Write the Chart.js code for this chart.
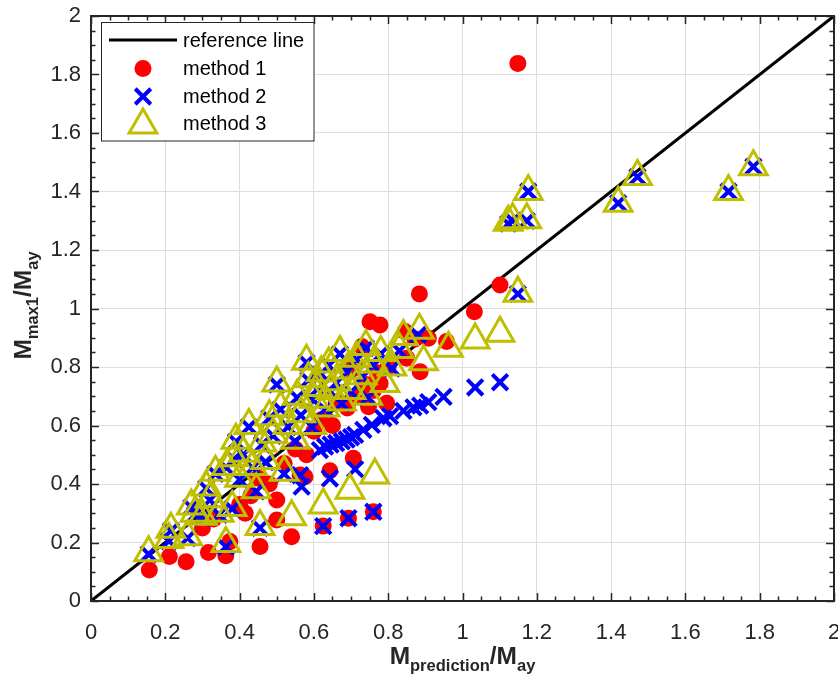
<!DOCTYPE html>
<html><head><meta charset="utf-8">
<script src="https://cdn.jsdelivr.net/npm/chart.js@4.4.1/dist/chart.umd.min.js"></script>
<style>html,body{margin:0;padding:0;background:#fff;}#wrap{width:838px;height:679px;}</style>
</head><body><div id="wrap"><canvas id="c" width="838" height="679"></canvas></div>
<script>
// ---------- data ----------
const tickValues = [0, 0.2, 0.4, 0.6, 0.8, 1, 1.2, 1.4, 1.6, 1.8, 2];
const tickLabels = ['0', '0.2', '0.4', '0.6', '0.8', '1', '1.2', '1.4', '1.6', '1.8', '2'];
const seriesNames = ['reference line', 'method 1', 'method 2', 'method 3'];
const referenceX = [0, 2];
const referenceY = [0, 2];

const method1 = [
  [0.157,0.106],[0.211,0.152],[0.256,0.134],[0.316,0.166],[0.363,0.155],[0.374,0.203],[0.415,0.300],
  [0.455,0.186],[0.500,0.277],[0.500,0.345],[0.540,0.220],[0.563,0.431],[0.576,0.425],[0.625,0.256],
  [0.643,0.445],[0.693,0.283],[0.706,0.488],[0.760,0.305],[0.300,0.250],[0.330,0.280],[0.400,0.330],
  [0.430,0.360],[0.450,0.420],[0.480,0.400],[0.520,0.470],[0.550,0.520],[0.580,0.500],[0.600,0.580],
  [0.620,0.620],[0.650,0.600],[0.660,0.680],[0.690,0.660],[0.720,0.700],[0.740,0.740],[0.760,0.720],
  [0.778,0.744],[0.796,0.676],[0.747,0.664],[0.700,0.790],[0.729,0.870],[0.770,0.780],[0.800,0.800],
  [0.751,0.955],[0.778,0.944],[0.845,0.921],[0.872,0.896],[0.884,1.050],[0.908,0.898],[0.957,0.887],
  [1.032,0.989],[1.101,1.080],[1.149,1.838],[0.886,0.784],[0.850,0.830]
];
const method2 = [
  [0.155,0.160],[0.210,0.205],[0.215,0.240],[0.260,0.215],[0.280,0.295],[0.270,0.320],[0.300,0.285],
  [0.310,0.385],[0.320,0.345],[0.335,0.435],[0.345,0.295],[0.363,0.185],[0.365,0.455],[0.380,0.315],
  [0.385,0.485],[0.390,0.545],[0.400,0.415],[0.410,0.500],[0.425,0.595],[0.435,0.455],[0.445,0.375],
  [0.455,0.250],[0.460,0.535],[0.470,0.475],[0.480,0.625],[0.490,0.565],[0.500,0.740],[0.510,0.655],
  [0.520,0.435],[0.530,0.595],[0.550,0.545],[0.555,0.695],[0.565,0.635],[0.580,0.815],[0.585,0.755],
  [0.595,0.595],[0.600,0.685],[0.610,0.725],[0.620,0.775],[0.630,0.655],[0.640,0.805],[0.645,0.715],
  [0.660,0.745],[0.670,0.845],[0.675,0.675],[0.690,0.785],[0.700,0.715],[0.715,0.825],[0.730,0.765],
  [0.740,0.865],[0.745,0.695],[0.760,0.805],[0.780,0.845],[0.810,0.795],[0.830,0.855],[0.880,0.910],
  [0.616,0.516],[0.630,0.528],[0.645,0.535],[0.660,0.540],[0.675,0.546],[0.688,0.552],[0.700,0.560],
  [0.711,0.568],[0.733,0.585],[0.756,0.602],[0.787,0.625],[0.805,0.632],[0.841,0.650],[0.868,0.662],
  [0.886,0.668],[0.908,0.680],[0.949,0.698],[1.034,0.730],[1.101,0.748],
  [0.567,0.391],[0.643,0.419],[0.711,0.451],[0.625,0.256],[0.693,0.283],[0.760,0.305],[0.563,0.430],
  [1.149,1.050],[1.123,1.290],[1.135,1.300],[1.173,1.300],[1.177,1.400],[1.419,1.360],[1.471,1.450],
  [1.716,1.400],[1.783,1.485]
];
const method3 = [
  [0.155,0.165],[0.210,0.210],[0.215,0.245],[0.260,0.220],[0.280,0.300],[0.270,0.325],[0.300,0.290],
  [0.310,0.390],[0.320,0.350],[0.335,0.440],[0.345,0.300],[0.363,0.197],[0.365,0.460],[0.380,0.320],
  [0.385,0.490],[0.390,0.550],[0.400,0.420],[0.410,0.505],[0.425,0.600],[0.435,0.460],[0.445,0.380],
  [0.455,0.255],[0.460,0.540],[0.470,0.480],[0.480,0.630],[0.490,0.570],[0.500,0.745],[0.510,0.660],
  [0.520,0.440],[0.530,0.600],[0.540,0.288],[0.550,0.550],[0.555,0.700],[0.565,0.640],[0.580,0.820],
  [0.585,0.760],[0.595,0.600],[0.600,0.690],[0.610,0.730],[0.620,0.780],[0.625,0.328],[0.630,0.660],
  [0.640,0.810],[0.645,0.720],[0.660,0.750],[0.670,0.850],[0.675,0.680],[0.690,0.790],[0.697,0.379],
  [0.700,0.720],[0.715,0.830],[0.730,0.770],[0.740,0.870],[0.745,0.700],[0.760,0.810],[0.764,0.431],
  [0.780,0.850],[0.791,0.744],[0.810,0.800],[0.830,0.860],[0.841,0.904],[0.884,0.926],[0.895,0.818],
  [0.962,0.864],[1.034,0.892],[1.101,0.915],[1.149,1.052],[1.123,1.295],[1.135,1.303],[1.173,1.303],
  [1.177,1.400],[1.419,1.360],[1.471,1.451],[1.716,1.400],[1.783,1.485]
];

// ---------- styles ----------
const FONT = '"Liberation Sans", Arial, sans-serif';
const AX = '#262626';
const C_RED = '#ff0000', C_BLUE = '#0000ff', C_OLIVE = '#bfbf00';
const toXY = arr => arr.map(p => ({x: p[0], y: p[1]}));

const box = {
  id: 'boxTicks',
  afterDatasetsDraw(chart) {
    const {ctx, chartArea: a, scales: {x, y}} = chart;
    ctx.save();
    ctx.strokeStyle = AX;
    ctx.lineWidth = 1.5;
    const major = 8, minor = 4.5;
    for (let i = 0; i <= 40; i++) {
      const v = i * 0.05;
      const len = (i % 4 === 0) ? major : minor;
      const px = Math.round(x.getPixelForValue(v)) + 0.5;
      const py = Math.round(y.getPixelForValue(v)) + 0.5;
      ctx.beginPath();
      ctx.moveTo(px, a.bottom); ctx.lineTo(px, a.bottom - len);
      ctx.moveTo(px, a.top); ctx.lineTo(px, a.top + len);
      ctx.moveTo(a.left, py); ctx.lineTo(a.left + len, py);
      ctx.moveTo(a.right, py); ctx.lineTo(a.right - len, py);
      ctx.stroke();
    }
    ctx.lineWidth = 2;
    ctx.strokeRect(a.left, a.top, a.right - a.left, a.bottom - a.top);
    ctx.restore();
  },
  afterDraw(chart) {
    const {ctx, chartArea: a} = chart;
    ctx.save();
    const drawSub = (parts, cx, baseY) => {
      let w = 0;
      parts.forEach(p => { ctx.font = p[1] ? `bold 16.5px ${FONT}` : `bold 24.5px ${FONT}`; w += ctx.measureText(p[0]).width; });
      let xx = cx - w / 2;
      ctx.textBaseline = 'alphabetic'; ctx.textAlign = 'left';
      parts.forEach(p => {
        ctx.font = p[1] ? `bold 16.5px ${FONT}` : `bold 24.5px ${FONT}`;
        ctx.fillText(p[0], xx, baseY + (p[1] ? 7 : 0));
        xx += ctx.measureText(p[0]).width;
      });
    };
    ctx.fillStyle = AX;
    drawSub([['M',0],['prediction',1],['/M',0],['ay',1]], (a.left + a.right) / 2, 664);
    ctx.save();
    ctx.translate(31, (a.top + a.bottom) / 2 - 3);
    ctx.rotate(-Math.PI / 2);
    drawSub([['M',0],['max1',1],['/M',0],['ay',1]], 0, 0);
    ctx.restore();

    // legend
    const L = 101.5, T = 22.5, R = 314, B = 141;
    ctx.fillStyle = '#fff';
    ctx.fillRect(L, T, R - L, B - T);
    ctx.strokeStyle = AX; ctx.lineWidth = 1;
    ctx.strokeRect(L, T, R - L, B - T);
    const rows = [40, 68.5, 96.5, 123];
    const mx = 143;
    ctx.strokeStyle = '#000'; ctx.lineWidth = 3;
    ctx.beginPath(); ctx.moveTo(109, rows[0]); ctx.lineTo(177, rows[0]); ctx.stroke();
    const H = Chart.helpers;
    ctx.fillStyle = C_RED; ctx.strokeStyle = C_RED; ctx.lineWidth = 0;
    H.drawPoint(ctx, {pointStyle: 'circle', radius: 8.5, borderWidth: 0, rotation: 0}, mx, rows[1]);
    ctx.strokeStyle = C_BLUE; ctx.lineWidth = 4;
    H.drawPoint(ctx, {pointStyle: 'crossRot', radius: 11, borderWidth: 4, rotation: 0}, mx, rows[2]);
    ctx.strokeStyle = C_OLIVE; ctx.fillStyle = 'rgba(0,0,0,0)'; ctx.lineWidth = 3;
    H.drawPoint(ctx, {pointStyle: 'triangle', radius: 16, borderWidth: 3, rotation: 0}, mx, rows[3] + 2);
    ctx.fillStyle = '#000';
    ctx.font = `20px ${FONT}`;
    ctx.textAlign = 'left'; ctx.textBaseline = 'middle';
    seriesNames.forEach((n, i) => ctx.fillText(n, 183, rows[i] + 1));
    ctx.restore();
  }
};

const labelFor = v => { const i = tickValues.findIndex(t => Math.abs(t - v) < 1e-9); return i >= 0 ? tickLabels[i] : ''; };
const setTicks = s => { s.ticks = tickValues.map(v => ({value: v})); };

new Chart(document.getElementById('c'), {
  data: {
    datasets: [
      {type: 'line', label: seriesNames[0], data: referenceX.map((x, i) => ({x, y: referenceY[i]})),
       borderColor: '#000', borderWidth: 3, pointRadius: 0, fill: false, order: 4},
      {type: 'scatter', label: seriesNames[1], data: toXY(method1), pointStyle: 'circle', pointRadius: 8.5,
       backgroundColor: C_RED, borderColor: C_RED, borderWidth: 0, order: 3},
      {type: 'scatter', label: seriesNames[2], data: toXY(method2), pointStyle: 'crossRot', pointRadius: 11,
       backgroundColor: C_BLUE, borderColor: C_BLUE, borderWidth: 4, order: 2},
      {type: 'scatter', label: seriesNames[3], data: toXY(method3), pointStyle: 'triangle', pointRadius: 16,
       backgroundColor: 'rgba(0,0,0,0)', borderColor: C_OLIVE, borderWidth: 3, order: 1}
    ]
  },
  options: {
    responsive: false, animation: false, devicePixelRatio: 1, events: [],
    layout: {autoPadding: false, padding: {top: 16, right: 4, left: 0, bottom: 0}},
    plugins: {legend: {display: false}, tooltip: {enabled: false}},
    scales: {
      x: {type: 'linear', min: 0, max: 2, afterBuildTicks: setTicks,
          afterFit: s => { s.height = 78; s.paddingLeft = 0; s.paddingRight = 0; },
          grid: {color: '#dedede', lineWidth: 1, drawTicks: false},
          border: {display: false},
          ticks: {callback: v => labelFor(v), color: AX, font: {family: FONT, size: 22}, padding: 19, maxRotation: 0, autoSkip: false}},
      y: {type: 'linear', min: 0, max: 2, afterBuildTicks: setTicks,
          afterFit: s => { s.width = 91; s.paddingTop = 0; s.paddingBottom = 0; },
          grid: {color: '#dedede', lineWidth: 1, drawTicks: false},
          border: {display: false},
          ticks: {callback: v => labelFor(v), color: AX, font: {family: FONT, size: 22}, padding: 10, autoSkip: false}}
    }
  },
  plugins: [box]
});
</script></body></html>
